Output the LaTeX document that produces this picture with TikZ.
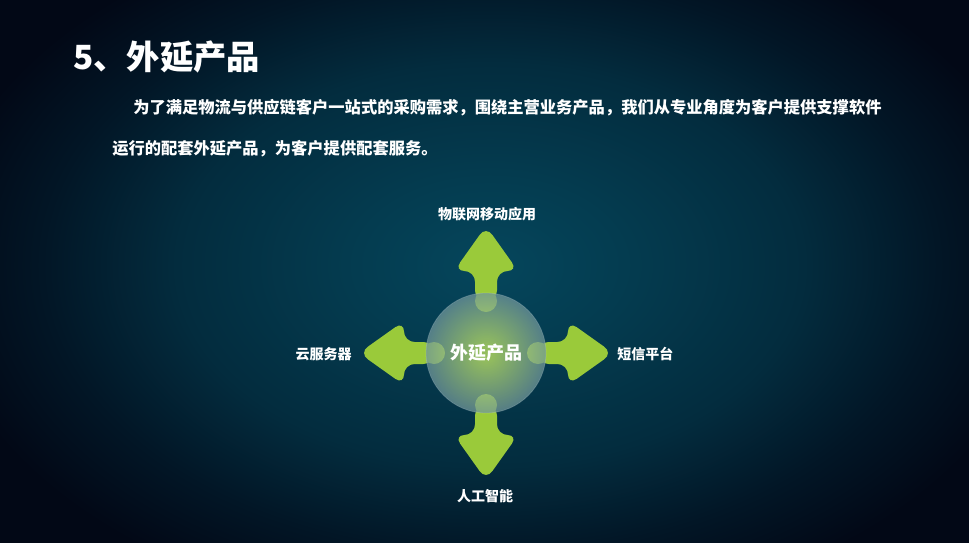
\documentclass[tikz,border=0pt]{standalone}
\usepackage{fontspec}
\setmainfont{Noto Sans CJK SC}
\usepackage{xcolor}
\usepackage{tikz}
\usetikzlibrary{positioning}

\definecolor{bgdark}{RGB}{2,8,22}
\definecolor{glowlow}{RGB}{2,22,38}
\definecolor{glowmid}{RGB}{3,44,62}
\definecolor{glowhigh}{RGB}{4,60,80}
\definecolor{glowcore}{RGB}{5,70,92}
\definecolor{arrowgreen}{RGB}{154,202,58}
\definecolor{coreedge}{RGB}{112,150,155}
\definecolor{corecenter}{RGB}{195,232,100}

\pgfdeclareradialshading{bgglow}{\pgfpoint{0bp}{0bp}}{%
  color(0bp)=(glowcore); color(6bp)=(glowhigh); color(14bp)=(glowmid);
  color(20bp)=(glowlow); color(25bp)=(bgdark); color(50bp)=(bgdark)}
\pgfdeclareradialshading{coreglow}{\pgfpoint{0bp}{0bp}}{%
  color(0bp)=(corecenter); color(3bp)=(corecenter); color(25bp)=(coreedge);
  color(50bp)=(coreedge)}

\tikzset{
  titletext/.style={
    anchor=west, inner sep=0pt, text=white,
    font=\bfseries\fontsize{25}{30}\selectfont
  },
  introtext/.style={
    anchor=west, inner sep=0pt, text=white,
    font=\bfseries\fontsize{12.2}{15}\selectfont
  },
  dirlabel/.style={
    inner sep=0pt, text=white,
    font=\bfseries\fontsize{10.5}{13}\selectfont
  },
  corelabel/.style={
    inner sep=0pt, text=white,
    font=\bfseries\fontsize{13.5}{16}\selectfont
  },
  arrowshape/.style={fill=arrowgreen, rounded corners=8pt},
}

\begin{document}
\begin{tikzpicture}[x=0.75pt, y=-0.75pt]
  \useasboundingbox (0,0) rectangle (969,542);

  % Background with teal glow
  \fill[bgdark] (-5,-5) rectangle (974,547);
  \begin{scope}
    \clip (-5,-5) rectangle (974,547);
    \shade[shading=bgglow] (490,265) ellipse (560 and 360);
  \end{scope}

  % Heading and intro
  \node[titletext] (title) at (73,57) {5、外延产品};
  \node[introtext] (intro1) at (133,108)
    {为了满足物流与供应链客户一站式的采购需求，围绕主营业务产品，我们从专业角度为客户提供支撑软件};
  \node[introtext] (intro2) at (112,149)
    {运行的配套外延产品，为客户提供配套服务。};

  % Four arrows out of the centre
  \coordinate (hub) at (486,353);
  \foreach \ang in {0,90,180,270} {
    \begin{scope}[shift={(hub)}, rotate=\ang]
      \fill[arrowgreen] (52,0) circle (11);
      \fill[arrowshape] (52,-11) -- (82,-11) -- (82,-32) -- (127,0)
        -- (82,32) -- (82,11) -- (52,11) -- cycle;
    \end{scope}
  }

  % Central disc
  \shade[shading=coreglow, fill opacity=0.75] (hub) circle (60);
  \draw[white, opacity=0.15, line width=0.6pt] (hub) circle (60);
  \node[corelabel] (core) at (hub) {外延产品};

  % Labels
  \node[dirlabel] (iot) at (487,214) {物联网移动应用};
  \node[dirlabel, anchor=east] (cloud) at (352,354) {云服务器};
  \node[dirlabel, anchor=west] (sms) at (617,354) {短信平台};
  \node[dirlabel] (ai) at (485,496) {人工智能};
\end{tikzpicture}
\end{document}
